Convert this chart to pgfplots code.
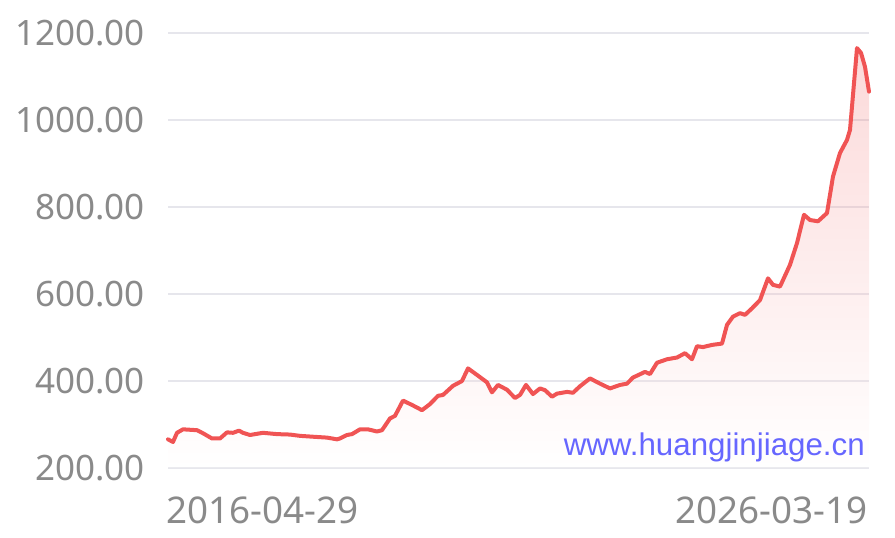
\documentclass[border=0pt]{standalone}
\usepackage{fontspec}
\setmainfont{Noto Sans}
\newfontfamily\wmfont{Liberation Sans}
\usepackage{pgfplots}
\usepackage{pgfplotstable}
\pgfplotsset{compat=1.18}

\definecolor{linered}{RGB}{240,84,84}
\definecolor{gridgray}{RGB}{230,230,236}
\definecolor{labelgray}{RGB}{138,138,138}
\definecolor{wmblue}{RGB}{102,102,255}

% t = position along the date axis (0 = 2016-04-29, 701 = 2026-03-19)
\pgfplotstableread{
t price
0 267
5 261
9 282
15 290
29 288
35 281
44 269
52 269
59 283
65 282
71 287
75 282
82 277
95 282
109 279
122 278
132 275
145 273
159 271
169 267
172 269
179 277
184 279
192 290
200 290
209 285
214 288
222 315
227 321
235 356
244 346
254 334
262 348
270 367
275 369
285 390
294 401
300 430
309 415
319 398
324 375
330 392
339 381
347 362
352 369
358 392
365 371
372 384
377 380
384 365
389 372
399 376
405 374
412 389
422 407
432 395
442 384
452 392
459 395
465 409
477 422
482 417
489 443
499 451
509 455
517 465
524 451
529 481
535 479
544 484
554 487
559 530
565 549
572 557
577 553
584 568
592 587
600 637
605 622
612 618
622 668
629 718
636 783
642 771
650 768
659 787
665 871
672 925
679 955
682 978
689 1166
693 1155
697 1123
701 1066
}\pricedata

\begin{document}
\begin{tikzpicture}[x=1pt,y=1pt]
\begin{axis}[
    at={(0,0)}, anchor=south west,
    scale only axis,
    width=701pt, height=435.2pt,
    xmin=0, xmax=701, ymin=200, ymax=1200,
    axis line style={draw=none},
    major tick length=0pt,
    ytick={200,400,...,1200},
    ymajorgrids,
    grid style={gridgray, line width=2pt},
    xtick={0}, xticklabels={2016-04-29},
    extra x ticks={701}, extra x tick labels={2026-03-19},
    extra x tick style={xticklabel style={anchor=north east, xshift=1pt}},
    xticklabel style={anchor=north west, inner sep=0pt, yshift=-28.5pt, xshift=-2pt,
        font=\fontsize{36.8}{40}\selectfont},
    yticklabel style={anchor=east, inner sep=0pt, xshift=-23pt,
        font=\fontsize{35}{40}\selectfont},
    tick label style={text=labelgray},
    /pgf/number format/assume math mode=true,
    y tick label style={/pgf/number format/.cd, fixed, fixed zerofill, precision=2, 1000 sep={}},
    clip=false,
]
% shaded area under the curve, down to the 200 line
\addplot[draw=none, top color=linered, bottom color=white, fill opacity=0.22]
    table[x=t, y=price] {\pricedata}
    -- (axis cs:701,200) -- (axis cs:0,200) -- cycle;
\addplot[linered, line width=4pt, line join=round, line cap=round, mark=none]
    table[x=t, y=price] {\pricedata};

\node[anchor=base east, inner sep=0pt, text=wmblue,
      font=\wmfont\fontsize{31.3}{36}\selectfont]
    at (axis cs:697,230.8) {www.huangjinjiage.cn};
\end{axis}
\path (-168,-69.5) rectangle (727,468.5);
\end{tikzpicture}
\end{document}
